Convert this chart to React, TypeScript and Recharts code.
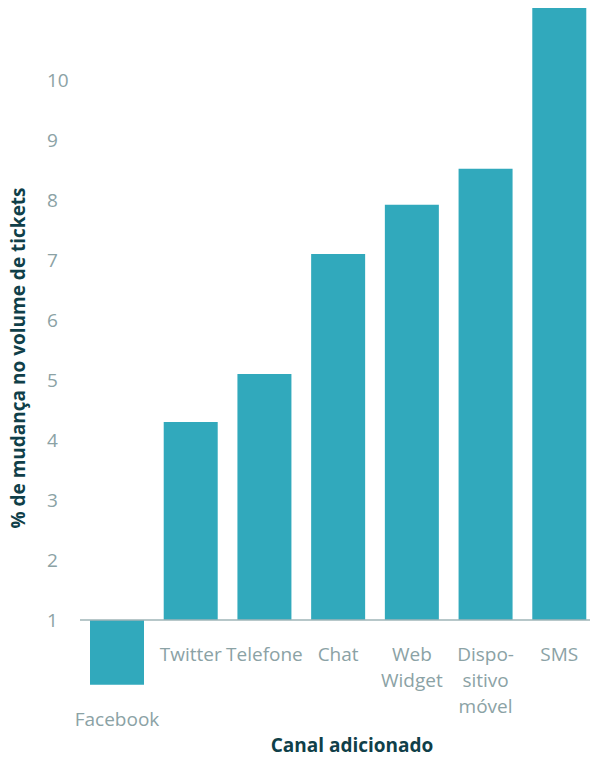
import { BarChart, Bar, XAxis, YAxis, ReferenceLine, LabelList, Label } from 'recharts';

const categories = ['Facebook', 'Twitter', 'Telefone', 'Chat', 'Web Widget', 'Dispositivo móvel', 'SMS'];
const tickLines = [['Facebook'], ['Twitter'], ['Telefone'], ['Chat'], ['Web', 'Widget'], ['Dispo-', 'sitivo', 'móvel'], ['SMS']];
const values = [-0.08, 4.3, 5.1, 7.1, 7.92, 8.52, 11.2];
const baseline = 1;
const yTicks = [1, 2, 3, 4, 5, 6, 7, 8, 9, 10];

const data = categories.map((name, i) => ({ name, change: [baseline, values[i]] }));

const FONT = '"Open Sans", sans-serif';
const LABEL_GREY = '#8ba2a5';
const TITLE = '#103f49';

const YTick = ({ x, y, payload }: any) => (
  <text x={x - 25} y={y} dy={7} textAnchor="start" fill={LABEL_GREY} fontSize={19} fontFamily={FONT}>
    {payload.value}
  </text>
);

// category names sit under each bar, even under the Facebook one that goes below 1
const BarName = (props: any) => {
  const { x, y, width, height, index } = props;
  const bottom = Math.max(y, y + height);
  const lines = tickLines[index] || [];
  return (
    <text x={x + width / 2} y={bottom + 41} textAnchor="middle" fill={LABEL_GREY} fontSize={19} fontFamily={FONT}>
      {lines.map((l, i) => (
        <tspan key={i} x={x + width / 2} dy={i === 0 ? 0 : 26}>
          {l}
        </tspan>
      ))}
    </text>
  );
};

const YTitle = ({ viewBox }: any) => {
  const cx = 18;
  const cy = viewBox.y + viewBox.height / 2 + 2;
  return (
    <text
      x={cx}
      y={cy}
      transform={`rotate(-90, ${cx}, ${cy})`}
      textAnchor="middle"
      dominantBaseline="central"
      fill={TITLE}
      fontSize={19}
      fontWeight={700}
      fontFamily={FONT}
    >
      % de mudança no volume de tickets
    </text>
  );
};

export default function App() {
  return (
    <div style={{ position: 'absolute', left: 0, top: 0, width: 590, height: 757, overflow: 'hidden', background: '#fff' }}>
      <BarChart width={600} height={757} data={data} margin={{ top: 8, right: 4, left: 0, bottom: 0 }} barSize={54}>
        <XAxis dataKey="name" height={53} axisLine={false} tickLine={false} tick={false}>
          <Label
            value="Canal adicionado"
            position="insideBottom"
            offset={5}
            dx={14}
            fill={TITLE}
            fontSize={19}
            fontWeight={700}
            fontFamily={FONT}
          />
        </XAxis>
        <YAxis
          width={80}
          domain={[-0.4, 11.2]}
          ticks={yTicks}
          axisLine={false}
          tickLine={false}
          tick={YTick}
          allowDataOverflow
        >
          <Label content={YTitle} />
        </YAxis>
        <Bar dataKey="change" fill="#31a9bc" isAnimationActive={false}>
          <LabelList dataKey="change" content={BarName} />
        </Bar>
        <ReferenceLine y={baseline} stroke="#9fb4b7" strokeWidth={1.5} />
      </BarChart>
    </div>
  );
}
